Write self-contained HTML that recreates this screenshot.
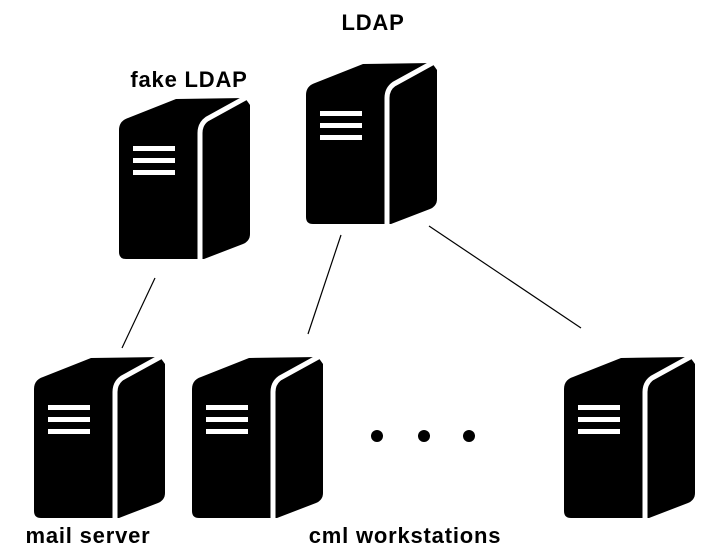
<!DOCTYPE html>
<html><head><meta charset="utf-8"><style>
html,body{margin:0;padding:0;background:#fff;}
body{width:716px;height:559px;overflow:hidden;}
svg{display:block}
text{font-family:"Liberation Sans",sans-serif;font-weight:bold;font-size:22px;letter-spacing:0.8px;fill:#000}
</style></head><body>
<svg width="716" height="559" viewBox="0 0 716 559">
<defs>
<g id="srv">
  <path d="M1,33 Q1,24 10,21 L58,2 L127,1 L132,8 L132,137 Q132,144 125,147 L86,162 L8,162 Q1,162 1,155 Z" fill="#000"/>
  <path d="M129,0 L89,22 Q82,27 82,36 L82,166" fill="none" stroke="#fff" stroke-width="5"/>
  <rect x="15" y="49" width="42" height="5" fill="#fff"/>
  <rect x="15" y="61" width="42" height="5" fill="#fff"/>
  <rect x="15" y="73" width="42" height="5" fill="#fff"/>
</g>
</defs>
<use href="#srv" x="305" y="62"/>
<use href="#srv" x="118" y="97"/>
<use href="#srv" x="33" y="356"/>
<use href="#srv" x="191" y="356"/>
<use href="#srv" x="563" y="356"/>
<line x1="155" y1="278" x2="122" y2="348" stroke="#000" stroke-width="1.2"/>
<line x1="341" y1="235" x2="308" y2="334" stroke="#000" stroke-width="1.2"/>
<line x1="429" y1="226" x2="581" y2="328" stroke="#000" stroke-width="1.2"/>
<circle cx="377" cy="436" r="6"/>
<circle cx="424" cy="436" r="6"/>
<circle cx="469" cy="436" r="6"/>
<text x="373" y="30" text-anchor="middle">LDAP</text>
<text x="189" y="87" text-anchor="middle">fake LDAP</text>
<text x="88" y="543" text-anchor="middle">mail server</text>
<text x="405" y="543" text-anchor="middle">cml workstations</text>
</svg>
</body></html>
